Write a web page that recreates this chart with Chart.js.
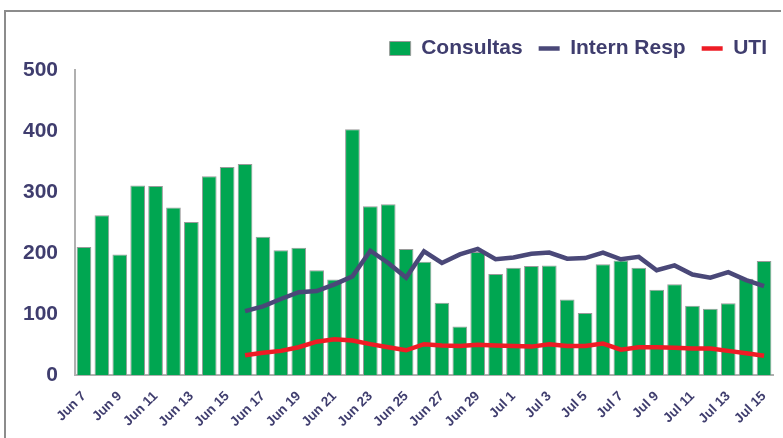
<!DOCTYPE html>
<html>
<head>
<meta charset="utf-8">
<script src="https://cdn.jsdelivr.net/npm/chart.js@4.4.1/dist/chart.umd.min.js"></script>
<style>
  html, body { margin: 0; padding: 0; background: #fff; }
  #wrap { position: relative; width: 783px; height: 438px; }
  #frame { position: absolute; left: 4px; top: 10px; right: 2px; bottom: 0; border-top: 2px solid #8c8c8c; border-left: 2px solid #8c8c8c; }
  canvas { position: absolute; left: 0; top: 0; }
</style>
</head>
<body>
<div id="wrap">
  <div id="frame"></div>
  <canvas id="chart" width="783" height="438"></canvas>
</div>
<script>
// Fechas (Jun 7 .. Jul 15)
const dias = [
  'Jun 7', 'Jun 8', 'Jun 9', 'Jun 10', 'Jun 11', 'Jun 12', 'Jun 13', 'Jun 14', 'Jun 15', 'Jun 16',
  'Jun 17', 'Jun 18', 'Jun 19', 'Jun 20', 'Jun 21', 'Jun 22', 'Jun 23', 'Jun 24', 'Jun 25', 'Jun 26',
  'Jun 27', 'Jun 28', 'Jun 29', 'Jun 30', 'Jul 1', 'Jul 2', 'Jul 3', 'Jul 4', 'Jul 5', 'Jul 6',
  'Jul 7', 'Jul 8', 'Jul 9', 'Jul 10', 'Jul 11', 'Jul 12', 'Jul 13', 'Jul 14', 'Jul 15'
];

const consultas = [
  210, 262, 198, 311, 310, 275, 251, 326, 341, 346,
  227, 205, 209, 172, 157, 403, 277, 280, 207, 186,
  119, 80, 202, 166, 176, 179, 180, 124, 102, 182,
  188, 176, 140, 149, 114, 109, 118, 158, 187
];

const internResp = [
  null, null, null, null, null, null, null, null, null, 105,
  113, 125, 136, 138, 149, 162, 204, 184, 160, 203,
  184, 198, 207, 190, 193, 199, 201, 191, 192, 201,
  190, 194, 172, 180, 165, 160, 169, 156, 146
];

const uti = [
  null, null, null, null, null, null, null, null, null, 33,
  37, 40, 46, 55, 59, 57, 51, 46, 41, 51,
  49, 48, 50, 49, 48, 47, 51, 48, 48, 52,
  42, 46, 46, 45, 44, 44, 40, 36, 32
];

const yTicks = [0, 100, 200, 300, 400, 500];

const navy = '#3f3d6e';
const fuente = "'Liberation Sans', Arial, sans-serif";

// ajuste de la altura de la leyenda
const legendaAire = {
  id: 'legendaAire',
  beforeInit(chart) {
    const fit = chart.legend.fit;
    chart.legend.fit = function () {
      fit.bind(chart.legend)();
      this.height += 1;
    };
  }
};

new Chart(document.getElementById('chart').getContext('2d'), {
  data: {
    labels: dias,
    datasets: [
      {
        type: 'bar',
        label: 'Consultas',
        data: consultas,
        backgroundColor: '#00a651',
        borderColor: '#9a9a9a',
        borderWidth: 1,
        barPercentage: 0.82,
        categoryPercentage: 1,
        pointStyle: 'rect',
        order: 3
      },
      {
        type: 'line',
        label: 'Intern Resp',
        data: internResp,
        borderColor: '#4a4878',
        backgroundColor: '#4a4878',
        borderWidth: 4.5,
        pointRadius: 0,
        tension: 0,
        pointStyle: 'line',
        order: 2
      },
      {
        type: 'line',
        label: 'UTI',
        data: uti,
        borderColor: '#ee1c25',
        backgroundColor: '#ee1c25',
        borderWidth: 4.5,
        pointRadius: 0,
        tension: 0,
        pointStyle: 'line',
        order: 1
      }
    ]
  },
  plugins: [legendaAire],
  options: {
    responsive: false,
    animation: false,
    layout: { padding: { left: 6, right: 0, top: 22, bottom: -5 } },
    plugins: {
      legend: {
        position: 'top',
        align: 'end',
        labels: {
          usePointStyle: true,
          pointStyleWidth: 21,
          boxHeight: 14,
          color: navy,
          padding: 16,
          sort: (a, b) => a.datasetIndex - b.datasetIndex,
          font: { family: fuente, size: 21, weight: 'bold' }
        }
      },
      tooltip: { enabled: false }
    },
    scales: {
      x: {
        grid: { display: false, drawTicks: false },
        border: { color: '#b0b0b0', width: 2 },
        afterFit: function (scale) { scale.paddingRight = 10; },
        ticks: {
          autoSkip: false,
          maxRotation: 45,
          minRotation: 45,
          color: navy,
          padding: 13,
          font: { family: fuente, size: 13.5, weight: 'bold' },
          callback: function (v, i) { return i % 2 === 0 ? dias[i] : ''; }
        }
      },
      y: {
        min: 0,
        max: 500,
        grid: { display: false, drawTicks: false },
        border: { color: '#b0b0b0', width: 2 },
        afterBuildTicks: function (axis) { axis.ticks = yTicks.map(v => ({ value: v })); },
        ticks: {
          color: navy,
          padding: 17,
          font: { family: fuente, size: 21, weight: 'bold' }
        }
      }
    }
  }
});
</script>
</body>
</html>
